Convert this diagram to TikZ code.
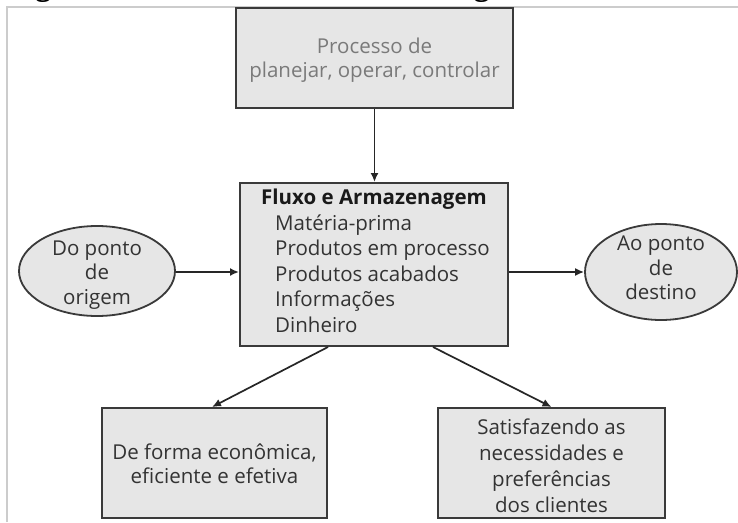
\documentclass[tikz,border=0pt]{standalone}
\usepackage{fontspec}
\setmainfont{Open Sans}
\newfontfamily\titlefont{Liberation Serif}
\usetikzlibrary{arrows.meta,shapes.geometric,calc}
\definecolor{boxfill}{HTML}{E6E6E6}
\definecolor{boxline}{HTML}{3A3A3A}
\definecolor{txt}{HTML}{333333}
\definecolor{txtgray}{HTML}{7A7A7A}
\definecolor{framegray}{HTML}{CCCCCC}
\begin{document}
\begin{tikzpicture}[x=1pt,y=-1pt,
  box/.style={draw=boxline, fill=boxfill, line width=2pt, rectangle, inner sep=0pt},
  oval/.style={draw=boxline, fill=boxfill, line width=1.8pt, ellipse, inner sep=0pt},
  lbl/.style={text=txt, align=center, inner sep=0pt},
  conn/.style={draw=black!85, line width=1.7pt, -{Latex[length=9pt,width=8pt]}}
]
\useasboundingbox (0,0) rectangle (738,522);
\fill[white] (0,0) rectangle (738,522);
\begin{scope}
\clip (0,0) rectangle (738,7);
\node[anchor=base west, inner sep=0pt, font=\titlefont\bfseries\fontsize{31.7}{34}\selectfont] (title) at (7,-5) {Figura 3 – Elementos básicos da logística};
\end{scope}
\draw[framegray, line width=2pt] (7,522) -- (7,7) -- (738,7);

% boxes
\node[box, minimum width=277pt, minimum height=100pt] (plan) at (374.5,58) {};
\node[lbl, text=txtgray, font=\fontsize{20.5}{24.5}\selectfont] (plantext) at (374.5,60) {Processo de\\planejar, operar, controlar};

\node[box, minimum width=268pt, minimum height=163pt] (flow) at (374,264.5) {};
\node[lbl, anchor=north west, align=left, font=\fontsize{20.5}{25.5}\selectfont] (flowtext) at (261,189)
  {{\color{black!90}\bfseries Fluxo e Armazenagem}\\
   \hspace*{14pt}Matéria-prima\\
   \hspace*{14pt}Produtos em processo\\
   \hspace*{14pt}Produtos acabados\\
   \hspace*{14pt}Informações\\
   \hspace*{14pt}Dinheiro};

\node[oval, minimum width=156pt, minimum height=90pt] (orig) at (97,271) {};
\node[lbl, font=\fontsize{20.5}{24.5}\selectfont] (origtext) at (97,275) {Do ponto\\de\\origem};

\node[oval, minimum width=152pt, minimum height=96pt] (dest) at (661,272) {};
\node[lbl, font=\fontsize{20.5}{24.5}\selectfont] (desttext) at (661,268) {Ao ponto\\de\\destino};

\node[box, minimum width=225pt, minimum height=110pt] (econ) at (214.5,463) {};
\node[lbl, font=\fontsize{20.5}{23.5}\selectfont] (econtext) at (214.5,463.5) {De forma econômica,\\eficiente e efetiva};

\node[box, minimum width=227pt, minimum height=110pt] (pref) at (551.5,463) {};
\node[lbl, font=\fontsize{20.5}{26}\selectfont] (preftext) at (551.5,465.5) {Satisfazendo as\\necessidades e\\preferências\\dos clientes};

% connectors
\draw[conn] (plan.south) -- (plan.south |- flow.north);
\draw[conn] (orig.east |- 0,272) -- (flow.west |- 0,272);
\draw[conn] (flow.east |- 0,272) -- (dest.west |- 0,272);
\draw[conn] ([xshift=-46pt]flow.south) -- ([xshift=-2.5pt]econ.north);
\draw[conn] ([xshift=59pt]flow.south) -- (pref.north);
\end{tikzpicture}
\end{document}
